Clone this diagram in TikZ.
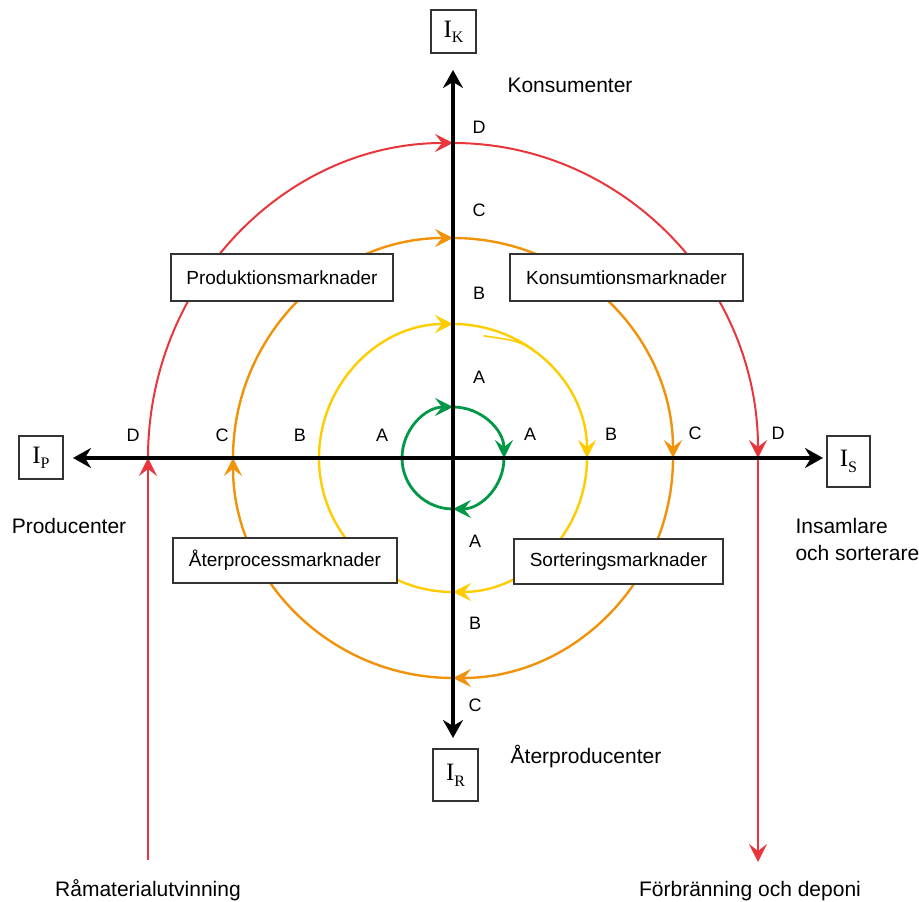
\documentclass[tikz,border=0pt]{standalone}
\usepackage{fontspec}
\setmainfont{Liberation Sans}
\newfontfamily\serifI{Liberation Serif}
\usetikzlibrary{arrows.meta,calc}
\definecolor{cred}{RGB}{232,54,60}
\definecolor{corange}{RGB}{240,146,10}
\definecolor{cyellow}{RGB}{255,204,0}
\definecolor{cgreen}{RGB}{0,152,70}
\begin{document}
\begin{tikzpicture}[x=1pt,y=1pt,
  ax/.style={line width=3.2pt,{Stealth[length=18pt,width=20pt,inset=6pt]}-{Stealth[length=18pt,width=20pt,inset=6pt]}},
  tipc/.style={-{Stealth[length=18pt,width=18pt,inset=7pt]}},
  ring/.style={line width=2.4pt},
  mbox/.style={draw=black!80,line width=1.2pt,fill=white,minimum height=46pt,inner sep=0pt,font=\fontsize{19}{22}\selectfont},
  ibox/.style={draw=black!80,line width=1.2pt,fill=white,inner sep=0pt,font=\serifI\fontsize{25}{25}\selectfont},
  lab/.style={font=\fontsize{21}{25}\selectfont},
  let/.style={font=\fontsize{18}{20}\selectfont}
]
\useasboundingbox (0,0) rectangle (919,902);
\coordinate (O) at (453,444);
\coordinate (axT) at (453,832);
\coordinate (axB) at (453,164);
\coordinate (axL) at (73,444);
\coordinate (axR) at (823,444);
\coordinate (redL) at (148,444);
\coordinate (redR) at (758,444);
\coordinate (rawS) at (148,42);
\coordinate (wasteE) at (758,40);

% green ring
\begin{scope}[cgreen,line width=2.8pt]
\draw[tipc] (O) ++(180:51) arc[start angle=180,end angle=90,radius=51];
\draw[tipc] (O) ++(90:51) arc[start angle=90,end angle=0,radius=51];
\draw[tipc] (O) ++(0:51) arc[start angle=0,end angle=-90,radius=51];
\draw (O) ++(-90:51) arc[start angle=-90,end angle=-180,radius=51];
\end{scope}

% yellow ring
\begin{scope}[cyellow,ring]
\draw[tipc] (O) ++(180:134) arc[start angle=180,end angle=90,radius=134];
\draw[tipc] (O) ++(90:134) arc[start angle=90,end angle=0,radius=134];
\draw[tipc] (O) ++(0:134) arc[start angle=0,end angle=-90,radius=134];
\draw (O) ++(-90:134) arc[start angle=-90,end angle=-180,radius=134];
\draw[line width=1.6pt] ($(O)+(76:126)$) to[out=-10,in=140] ($(O)+(52:134)$);
\end{scope}

% orange ring
\begin{scope}[corange,ring]
\draw[tipc] (O) ++(180:220) arc[start angle=180,end angle=90,radius=220];
\draw[tipc] (O) ++(90:220) arc[start angle=90,end angle=0,radius=220];
\draw[tipc] (O) ++(0:220) arc[start angle=0,end angle=-90,radius=220];
\draw[tipc] (O) ++(-90:220) arc[start angle=-90,end angle=-180,radius=220];
\end{scope}

% red path
\begin{scope}[cred,line width=2pt]
\draw[tipc] (rawS) -- (redL);
\draw[tipc] (redL) arc[start angle=180,end angle=90,x radius=305,y radius=315];
\draw[tipc] (O) ++(0,315) arc[start angle=90,end angle=0,x radius=305,y radius=315];
\draw[tipc] (redR) -- (wasteE);
\end{scope}

% axes
\draw[ax] (axL) -- (axR);
\draw[ax] (axB) -- (axT);

% boxes
\node[ibox,minimum width=45pt,minimum height=43pt] (IK) at (453.5,870.5) {I\raisebox{-5pt}{\fontsize{16}{16}\selectfont K}};
\node[ibox,minimum width=44pt,minimum height=43pt] (IP) at (41,444.5) {I\raisebox{-5pt}{\fontsize{16}{16}\selectfont P}};
\node[ibox,minimum width=43pt,minimum height=51pt] (IS) at (848.5,440.5) {I\raisebox{-6pt}{\fontsize{16}{16}\selectfont S}};
\node[ibox,minimum width=45pt,minimum height=52pt] (IR) at (455.5,127) {I\raisebox{-6pt}{\fontsize{16}{16}\selectfont R}};

\node[mbox,minimum width=222pt,minimum height=47pt] (prod) at (282,624.5) {Produktionsmarknader};
\node[mbox,minimum width=233pt,minimum height=47pt] (kons) at (626.5,624.5) {Konsumtionsmarknader};
\node[mbox,minimum width=224pt,minimum height=45pt] (ater) at (285,341.5) {Återprocessmarknader};
\node[mbox,minimum width=209pt,minimum height=45pt] (sort) at (618.5,340.5) {Sorteringsmarknader};

% outer labels
\node[lab] (lKons) at (570,817) {Konsumenter};
\node[lab] (lProd) at (69,376) {Producenter};
\node[lab,align=left,anchor=west,font=\fontsize{21}{27}\selectfont] (lIns) at (792,362.5) {Insamlare\\och sorterare};
\node[lab] (lAter) at (586,145) {Återproducenter};
\node[lab] (lRaw) at (148,12) {Råmaterialutvinning};
\node[lab] (lWaste) at (750,11) {Förbränning och deponi};

% letters
\node[let] (tD) at (479,775) {D};
\node[let] (tC) at (479,692) {C};
\node[let] (tB) at (479,609) {B};
\node[let] (tA) at (479,525) {A};
\node[let] (lD) at (133,467) {D};
\node[let] (lC) at (222,467) {C};
\node[let] (lB) at (300,467) {B};
\node[let] (lA) at (382,467) {A};
\node[let] (rA) at (530,468) {A};
\node[let] (rB) at (611,468) {B};
\node[let] (rC) at (695,469) {C};
\node[let] (rD) at (778,469) {D};
\node[let] (bA) at (475,361) {A};
\node[let] (bB) at (475,279) {B};
\node[let] (bC) at (475,197) {C};
\end{tikzpicture}
\end{document}
